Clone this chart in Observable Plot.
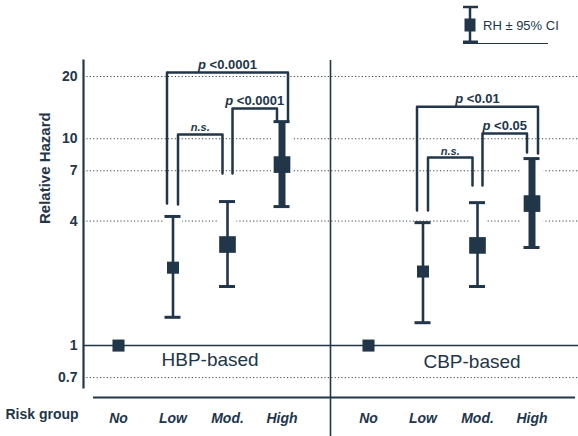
<!DOCTYPE html>
<html><head><meta charset="utf-8">
<script src="https://cdn.jsdelivr.net/npm/d3@7"></script>
<script src="https://cdn.jsdelivr.net/npm/@observablehq/plot@0.6"></script>
<style>
body{margin:0;background:#fff;}
#chart{width:578px;height:436px;}
#chart svg{font-family:"Liberation Sans",Arial,sans-serif;background:#fff;}
</style></head><body><div id="chart"></div>
<script>
// ---------- data ----------
const groups = ["No", "Low", "Mod.", "High"];
const panels = ["HBP-based", "CBP-based"];
const hbpRH = [1, 2.38, 3.08, 7.5];
const hbpLo = [null, 1.37, 1.93, 4.70];
const hbpHi = [null, 4.21, 4.97, 12.1];
const cbpRH = [1, 2.28, 3.05, 4.86];
const cbpLo = [null, 1.29, 1.93, 2.98];
const cbpHi = [null, 3.93, 4.91, 8.02];
const yTicks = [0.7, 1, 4, 7, 10, 20];
const bracketPanel = ["HBP-based", "HBP-based", "HBP-based", "CBP-based", "CBP-based", "CBP-based"];
const bracketFrom = ["Low", "Mod.", "Low", "Low", "Mod.", "Low"];
const bracketTo = ["High", "High", "Mod.", "High", "High", "Mod."];
const bracketTop = [20.9, 14.0, 10.5, 14.3, 10.6, 8.11];
const bracketFromEnd = [4.86, 6.79, 4.81, 4.50, 5.94, 4.50];
const bracketToEnd = [12.1, 12.1, 6.79, 8.48, 8.58, 5.94];
const bracketLabel = ["p <0.0001", "p <0.0001", "n.s.", "p <0.01", "p <0.05", "n.s."];
const legendLabel = "RH ± 95% CI";
const yTitle = "Relative Hazard";
const xTitle = "Risk group";

// ---------- layout ----------
const W = 578, H = 436, mL = 83, mR = 0, mT = 60, mB = 49;
const unit = 54.5;            // px between neighbouring groups
const firstPx = 118;          // px of first group centre
const panelShift = 250 / unit; // panel offset in group units
const xDomain = [(mL - firstPx) / unit, (W - mR - firstPx) / unit];
const yDomain = [0.627, 23.9];
const ink = "#22364a";

const series = [[hbpRH, hbpLo, hbpHi], [cbpRH, cbpLo, cbpHi]];
const rows = panels.flatMap((p, pi) => groups.map((g, gi) => ({
  panel: p, group: g, x: gi + pi * panelShift,
  rh: series[pi][0][gi], lo: series[pi][1][gi], hi: series[pi][2][gi]
})));
const ciRows = rows.filter(d => d.lo != null);
const xOf = (p, g) => groups.indexOf(g) + panels.indexOf(p) * panelShift;
const big = g => g === "Mod." || g === "High";

const bracketPts = [], bracketLabs = [];
bracketLabel.forEach((lab, i) => {
  const x1 = xOf(bracketPanel[i], bracketFrom[i]), x2 = xOf(bracketPanel[i], bracketTo[i]);
  const wide = x2 - x1 > 1.5;
  const off = (wide ? -6 : 5) / unit;
  const xl = x1 + off, xr = x2 - off;
  bracketPts.push({id: i, x: xl, y: bracketFromEnd[i]}, {id: i, x: xl, y: bracketTop[i]},
                  {id: i, x: xr, y: bracketTop[i]}, {id: i, x: xr, y: bracketToEnd[i]});
  bracketLabs.push({x: (xl + xr) / 2, y: bracketTop[i], label: lab});
});
const xTickPos = panels.flatMap(p => groups.map(g => xOf(p, g)));
const xTickLab = panels.flatMap(() => groups);
const capHalf = 8 / unit;

const plot = Plot.plot({
  width: W, height: H,
  marginLeft: mL, marginRight: mR, marginTop: mT, marginBottom: mB,
  x: {type: "linear", domain: xDomain, axis: null},
  y: {type: "log", domain: yDomain, axis: null},
  marks: [
    Plot.ruleY(yTicks.filter(v => v !== 1), {stroke: "#3a4652", strokeWidth: 1, strokeDasharray: "1.2,2.2"}),
    Plot.ruleY([1], {stroke: ink, strokeWidth: 1.6}),
    Plot.ruleX(ciRows.filter(d => d.group !== "High"), {x: "x", y1: "lo", y2: "hi", stroke: "white", strokeWidth: 18}),
    Plot.ruleX(ciRows.filter(d => d.group === "High"), {x: "x", y1: "lo", y2: "hi", stroke: "white", strokeWidth: 22}),
    Plot.frame({anchor: "left", stroke: ink, strokeWidth: 2.2}),
    Plot.ruleX([(330 - firstPx) / unit], {stroke: ink, strokeWidth: 1.6, insetBottom: -mB}),
    Plot.ruleY([yDomain[0]], {x1: (93 - firstPx) / unit, x2: (575 - firstPx) / unit, dy: 10, stroke: ink, strokeWidth: 2}),
    Plot.ruleX(ciRows.filter(d => d.group !== "High"), {x: "x", y1: "lo", y2: "hi", stroke: ink, strokeWidth: 2.6}),
    Plot.ruleX(ciRows.filter(d => d.group === "High"), {x: "x", y1: "lo", y2: "hi", stroke: ink, strokeWidth: 7}),
    Plot.ruleY(ciRows, {y: "lo", x1: d => d.x - capHalf, x2: d => d.x + capHalf, stroke: ink, strokeWidth: 3}),
    Plot.ruleY(ciRows, {y: "hi", x1: d => d.x - capHalf, x2: d => d.x + capHalf, stroke: ink, strokeWidth: 3}),
    Plot.dot(rows.filter(d => !big(d.group)), {x: "x", y: "rh", symbol: "square", r: 6.8, fill: ink, stroke: "none"}),
    Plot.dot(rows.filter(d => big(d.group)), {x: "x", y: "rh", symbol: "square", r: 9.4, fill: ink, stroke: "none"}),
    Plot.line(bracketPts, {x: "x", y: "y", z: "id", stroke: ink, strokeWidth: 2.5, curve: "linear"}),
    Plot.text(bracketLabs.filter(d => d.label !== "n.s."), {x: "x", y: "y", text: "label", lineAnchor: "bottom", dy: -4, fontSize: 13, fontWeight: "bold", fill: ink}),
    Plot.text(bracketLabs.filter(d => d.label === "n.s."), {x: "x", y: "y", text: "label", lineAnchor: "bottom", dy: -3, fontSize: 11, fontWeight: "bold", fontStyle: "italic", fill: ink}),
    Plot.text(yTicks, {y: d => d, frameAnchor: "left", textAnchor: "end", dx: -6, fontSize: 14, fontWeight: "bold", fill: ink, text: d => String(d)}),
    Plot.axisX(xTickPos, {anchor: "bottom", tickSize: 0, tickPadding: 26, fontSize: 14, fontWeight: "bold", fontStyle: "italic", fill: ink, label: null, tickFormat: (d, i) => xTickLab[i]}),
    Plot.text([yTitle], {frameAnchor: "left", rotate: -90, dx: -38, fontSize: 15, fontWeight: "bold", fill: ink}),
    Plot.text([xTitle], {frameAnchor: "bottom-left", textAnchor: "start", dx: -78, dy: 31, fontSize: 14, fontWeight: "bold", fill: ink}),
    Plot.text([panels[0]], {x: [1.68], frameAnchor: "bottom", dy: -22, fontSize: 19, fill: ink}),
    Plot.text([panels[1]], {x: [1.9 + panelShift], frameAnchor: "bottom", dy: -20, fontSize: 19, fill: ink})
  ]
});
document.getElementById("chart").appendChild(plot);

// italic "p" in bracket labels
d3.select(plot).selectAll("text").filter(function() {
  return /^p </.test(this.textContent);
}).each(function() {
  const node = this.querySelector("tspan") || this;
  const t = node.textContent;
  const sel = d3.select(node);
  sel.text(null);
  sel.append("tspan").attr("font-style", "italic").text("p");
  sel.append("tspan").text(t.slice(1));
});

// legend (top right)
const lg = d3.select(plot).append("g").attr("stroke", ink).attr("fill", ink);
lg.append("line").attr("x1", 470).attr("x2", 470).attr("y1", 7).attr("y2", 42).attr("stroke-width", 2.5);
lg.append("line").attr("x1", 463).attr("x2", 478).attr("y1", 7).attr("y2", 7).attr("stroke-width", 2.5);
lg.append("line").attr("x1", 463).attr("x2", 478).attr("y1", 42).attr("y2", 42).attr("stroke-width", 3);
lg.append("rect").attr("x", 464.5).attr("y", 18.5).attr("width", 11).attr("height", 13).attr("stroke", "none");
lg.append("line").attr("x1", 463).attr("x2", 548).attr("y1", 43.5).attr("y2", 43.5).attr("stroke-width", 1.2);
lg.append("text").attr("x", 483).attr("y", 30).attr("stroke", "none").attr("text-anchor", "start").attr("font-size", 13).text(legendLabel);
</script></body></html>
